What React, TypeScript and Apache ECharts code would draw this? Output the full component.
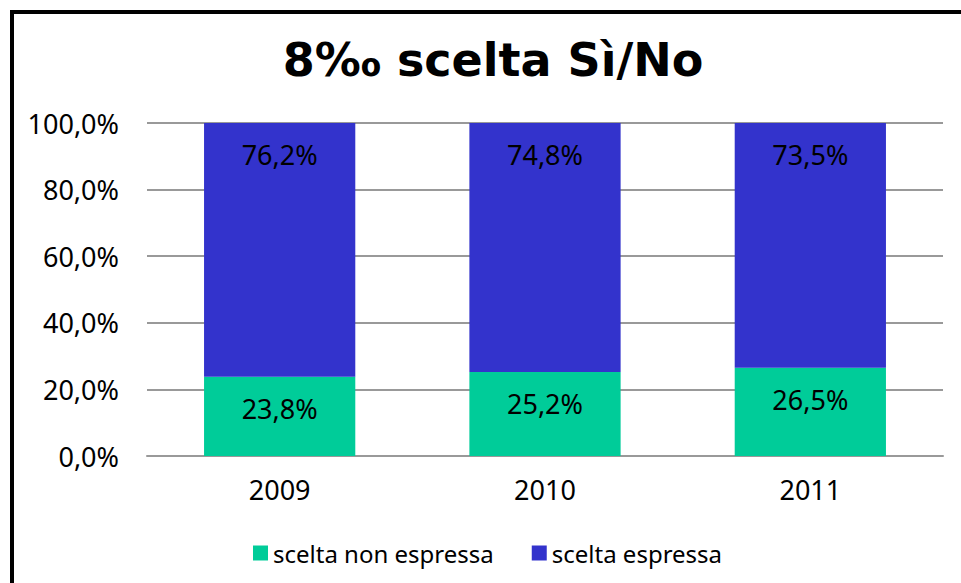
import React, { useEffect, useRef } from "react";
import * as echarts from "echarts";

const categories = ["2009", "2010", "2011"];
const nonEspressa = [23.8, 25.2, 26.5];
const espressa = [76.2, 74.8, 73.5];
const seriesNames = ["scelta non espressa", "scelta espressa"];
const titleText = "8‰ scelta Sì/No";

const FONT = "Noto Sans";
const fmt = (v: number) => v.toFixed(1).replace(".", ",") + "%";

export default function App() {
  const ref = useRef<HTMLDivElement>(null);
  useEffect(() => {
    if (!ref.current) return;
    const chart = echarts.init(ref.current, null, { renderer: "svg" });
    const label = {
      show: true,
      position: "insideTop" as const,
      distance: 18,
      color: "#000",
      fontFamily: FONT,
      fontSize: 27,
      formatter: (p: any) => fmt(p.value),
    };
    chart.setOption({
      animation: false,
      backgroundColor: "#fff",
      textStyle: { fontFamily: FONT },
      title: {
        text: titleText,
        left: 488,
        textAlign: "center",
        top: 32,
        textStyle: { fontFamily: "DejaVu Sans", fontSize: 46, fontWeight: "bold", color: "#000" },
      },
      graphic: [
        {
          type: "rect",
          shape: { x: 12, y: 12, width: 1000, height: 1000 },
          style: { fill: "none", stroke: "#000", lineWidth: 4 },
          silent: true,
        },
      ],
      legend: {
        left: 248,
        top: 536,
        itemWidth: 15,
        itemHeight: 15,
        itemGap: 38,
        icon: "rect",
        textStyle: { fontFamily: FONT, fontSize: 24, color: "#000" },
        data: seriesNames,
      },
      grid: { left: 147, right: 18, top: 123, bottom: 127 },
      xAxis: {
        type: "category",
        data: categories,
        axisLine: { lineStyle: { color: "#999", width: 2 } },
        axisTick: { show: false },
        axisLabel: { color: "#000", fontFamily: FONT, fontSize: 27, margin: 20 },
      },
      yAxis: {
        type: "value",
        min: 0,
        max: 100,
        interval: 20,
        axisLine: { show: false },
        axisTick: { show: false },
        splitLine: { lineStyle: { color: "#999", width: 2 } },
        axisLabel: {
          color: "#000",
          fontFamily: FONT,
          fontSize: 27,
          margin: 28,
          formatter: (v: number) => fmt(v),
        },
      },
      series: [
        {
          name: seriesNames[0],
          type: "bar",
          stack: "total",
          barWidth: "57%",
          itemStyle: { color: "#00CC99" },
          label,
          data: nonEspressa,
        },
        {
          name: seriesNames[1],
          type: "bar",
          stack: "total",
          barWidth: "57%",
          itemStyle: { color: "#3333CC" },
          label,
          data: espressa,
        },
      ],
    });
    return () => chart.dispose();
  }, []);
  return (
    <div
      ref={ref}
      style={{ position: "fixed", left: 0, top: 0, width: 961, height: 583 }}
    />
  );
}
